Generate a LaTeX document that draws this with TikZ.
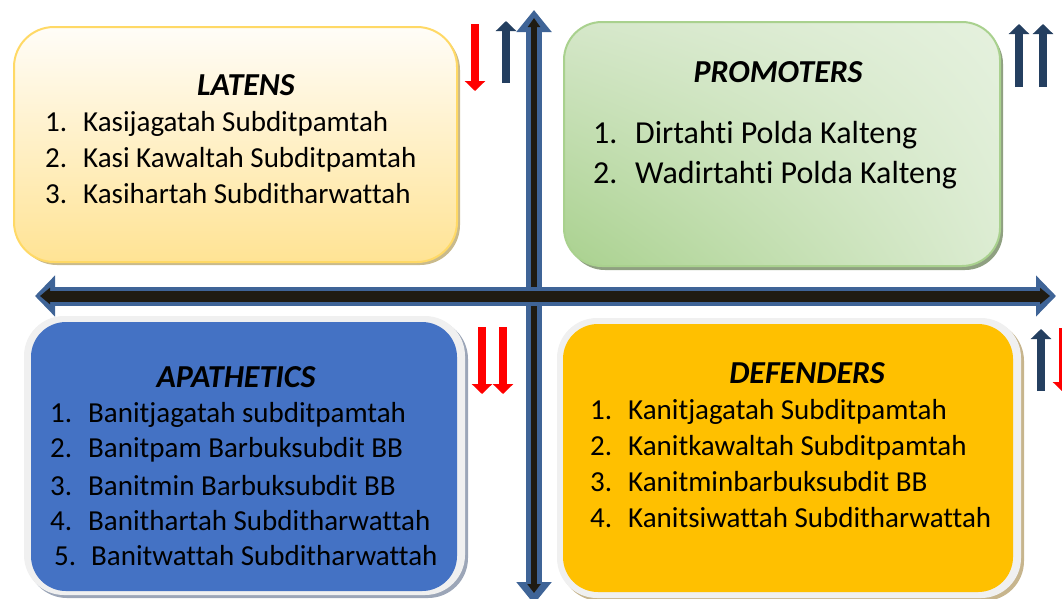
\documentclass[tikz,border=0pt]{standalone}
\usepackage{fontspec}
\setmainfont[Ligatures=NoCommon]{Carlito}
\usepackage{xcolor}
\usetikzlibrary{positioning, arrows.meta, shadows, shadings}

\definecolor{axisblue}{HTML}{3F6497}
\definecolor{axisblack}{HTML}{1F1B12}
\definecolor{navy}{HTML}{243F60}
\definecolor{markred}{HTML}{FF0000}
\definecolor{latenstop}{HTML}{FFFDF8}
\definecolor{latensbot}{HTML}{FFE394}
\definecolor{latensrim}{HTML}{FFD966}
\definecolor{latensshade}{HTML}{C9BA8C}
\definecolor{promgreen}{HTML}{A9D18E}
\definecolor{promupleft}{HTML}{D5E7C9}
\definecolor{promlowright}{HTML}{DCECD2}
\definecolor{promlight}{HTML}{E5F1DE}
\definecolor{promshade}{HTML}{8FA081}
\definecolor{apablue}{HTML}{4472C4}
\definecolor{apashade}{HTML}{9CA6B8}
\definecolor{defgold}{HTML}{FFC000}
\definecolor{defshade}{HTML}{C7B58D}
\definecolor{framegray}{HTML}{F0F0F0}

\tikzset{
  quadbox/.style={rectangle, rounded corners=38pt, inner sep=0pt},
  boxtitle/.style={anchor=base, inner sep=0pt, font=\fontsize{32}{38}\selectfont\bfseries\itshape},
  boxitem/.style={anchor=base west, inner sep=0pt, font=\fontsize{29}{35}\selectfont},
  bigitem/.style={anchor=base west, inner sep=0pt, font=\fontsize{32}{38}\selectfont},
  upmark/.style={navy, line width=8pt, -{Triangle[length=10pt,width=20pt]}},
  downmark/.style={markred, line width=8pt, -{Triangle[length=10pt,width=20pt]}}
}

\begin{document}
\begin{tikzpicture}[x=1pt,y=-1pt]
    \useasboundingbox (0,0) rectangle (1062,598);
    \clip (0,0) rectangle (1062,598);

    % Quadrant boxes
    \node[quadbox, rounded corners=40pt, minimum width=443pt, minimum height=235pt,
          top color=latenstop, bottom color=latensbot, draw=latensrim, line width=2pt,
          drop shadow={shadow xshift=3pt, shadow yshift=-3pt, fill=latensshade, opacity=1}]
          (latens) at (235.5,144.5) {};
    \node[quadbox, minimum width=436pt, minimum height=244pt, shade,
          shading=bilinear interpolation, lower left=promgreen, upper left=promupleft,
          upper right=promlight, lower right=promlowright, draw=promgreen, line width=2pt,
          drop shadow={shadow xshift=3pt, shadow yshift=-4pt, fill=promshade, opacity=1}]
          (promoters) at (782,144) {};
    \node[quadbox, rounded corners=40pt, minimum width=441pt, minimum height=279pt, fill=framegray,
          drop shadow={shadow xshift=3pt, shadow yshift=-3pt, fill=apashade, opacity=1}]
          (apaframe) at (244.5,455.5) {};
    \node[quadbox, rounded corners=35pt, minimum width=426pt, minimum height=269pt, fill=apablue]
          (apathetics) at (244,456.5) {};
    \node[quadbox, rounded corners=40pt, minimum width=464pt, minimum height=280pt, fill=framegray,
          drop shadow={shadow xshift=3pt, shadow yshift=-3pt, fill=defshade, opacity=1}]
          (defframe) at (789,458) {};
    \node[quadbox, rounded corners=35pt, minimum width=450pt, minimum height=268pt, fill=defgold]
          (defenders) at (788,458) {};

    % Axes
    \draw[axisblue, line width=16pt, {Triangle[length=22pt,width=34pt]}-{Triangle[length=22pt,width=34pt]}]
        (534,604) -- (534,10);
    \draw[axisblack, line width=6pt, {Triangle[length=9pt,width=13pt]}-{Triangle[length=9pt,width=12pt]}]
        (534,593) -- (534,18);
    \draw[axisblue, line width=19pt, {Triangle[length=20pt,width=40pt]}-{Triangle[length=20pt,width=40pt]}]
        (35,296) -- (1056,296);
    \draw[axisblack, line width=11pt, {Triangle[length=10pt,width=16pt]}-{Triangle[length=10pt,width=16pt]}]
        (40,296) -- (1050,296);

    % Trend markers
    \draw[downmark] (475,24) -- (475,91);
    \draw[upmark] (506,83) -- (506,21);
    \draw[upmark] (1019,87) -- (1019,24);
    \draw[upmark] (1043,87) -- (1043,24);
    \draw[downmark] (482,327) -- (482,394);
    \draw[downmark] (503,327) -- (503,394);
    \draw[upmark] (1041,391) -- (1041,329);
    \draw[downmark] (1063,328) -- (1063,392);

    % LATENS
    \node[boxtitle] (latenstitle) at (246,95) {LATENS};
    \node[boxitem] (latens1) at (45,131) {\makebox[38pt][l]{1.}Kasijagatah Subditpamtah};
    \node[boxitem] (latens2) at (45,167) {\makebox[38pt][l]{2.}Kasi Kawaltah Subditpamtah};
    \node[boxitem] (latens3) at (45,203) {\makebox[38pt][l]{3.}Kasihartah Subditharwattah};

    % PROMOTERS
    \node[boxtitle] (promtitle) at (778,82) {PROMOTERS};
    \node[bigitem] (prom1) at (593,143) {\makebox[42pt][l]{1.}Dirtahti Polda Kalteng};
    \node[bigitem] (prom2) at (593,183) {\makebox[42pt][l]{2.}Wadirtahti Polda Kalteng};

    % APATHETICS
    \node[boxtitle] (apatitle) at (236,387) {APATHETICS};
    \node[boxitem] (apa1) at (50,422) {\makebox[38pt][l]{1.}Banitjagatah subditpamtah};
    \node[boxitem] (apa2) at (50,457) {\makebox[38pt][l]{2.}Banitpam Barbuksubdit BB};
    \node[boxitem] (apa3) at (50,495) {\makebox[38pt][l]{3.}Banitmin Barbuksubdit BB};
    \node[boxitem] (apa4) at (50,530) {\makebox[38pt][l]{4.}Banithartah Subditharwattah};
    \node[boxitem] (apa5) at (54,565) {\makebox[37pt][l]{5.}Banitwattah Subditharwattah};

    % DEFENDERS
    \node[boxtitle] (deftitle) at (807,383) {DEFENDERS};
    \node[boxitem] (def1) at (590,419) {\makebox[38pt][l]{1.}Kanitjagatah Subditpamtah};
    \node[boxitem] (def2) at (590,455) {\makebox[38pt][l]{2.}Kanitkawaltah Subditpamtah};
    \node[boxitem] (def3) at (590,491) {\makebox[38pt][l]{3.}Kanitminbarbuksubdit BB};
    \node[boxitem] (def4) at (590,527) {\makebox[38pt][l]{4.}Kanitsiwattah Subditharwattah};
\end{tikzpicture}
\end{document}
